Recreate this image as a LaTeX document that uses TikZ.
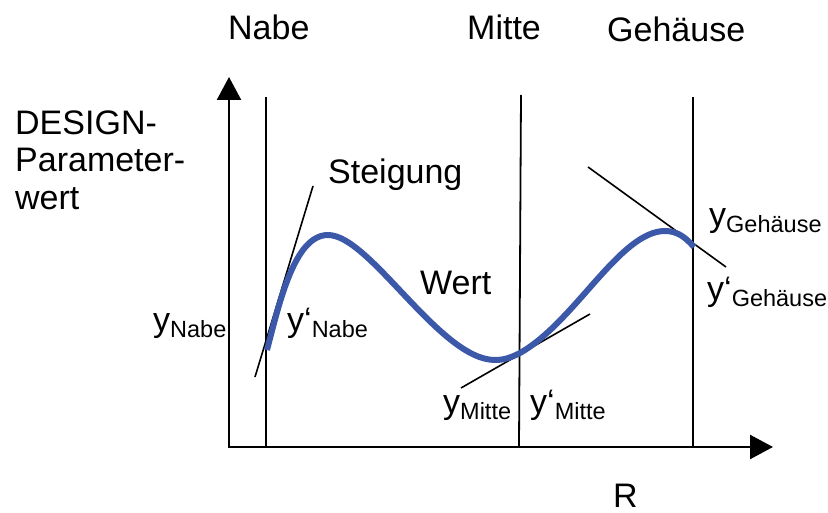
\documentclass[tikz,border=0pt]{standalone}
\usepackage{fontspec}
\setmainfont{Liberation Sans}
\usetikzlibrary{arrows.meta}
\definecolor{curveblue}{RGB}{60,88,168}
\tikzset{
  lbl/.style={anchor=base west,inner sep=0pt,font=\fontsize{34}{38}\selectfont},
  axisline/.style={line width=2.4pt,{Triangle[length=23pt,width=24pt]}-{Triangle[length=23pt,width=24pt]}},
  guide/.style={line width=1.8pt},
  tangent/.style={line width=1.6pt},
  valcurve/.style={line width=6pt,curveblue}
}
\newcommand{\sub}[1]{\raisebox{-6pt}{\fontsize{23.5}{26}\selectfont #1}}
\begin{document}
\begin{tikzpicture}[x=1pt,y=-1pt]
\useasboundingbox (0,0) rectangle (828,513);
% axes
\coordinate (ytip) at (229,77);
\coordinate (O) at (229,447);
\coordinate (xtip) at (773,447);
\draw[axisline] (ytip) -- (O) -- (xtip);
% guide lines
\coordinate (n1) at (266,97); \coordinate (n2) at (266,447);
\coordinate (m1) at (521,95); \coordinate (m2) at (519,447);
\coordinate (g1) at (693,97); \coordinate (g2) at (693,447);
\draw[guide] (n1) -- (n2);
\draw[guide] (m1) -- (m2);
\draw[guide] (g1) -- (g2);
% tangents
\coordinate (tn1) at (255,377); \coordinate (tn2) at (313,186);
\coordinate (tm1) at (461,388); \coordinate (tm2) at (590,314);
\coordinate (tg1) at (588,167); \coordinate (tg2) at (726,267);
\draw[tangent] (tn1) -- (tn2);
\draw[tangent] (tm1) -- (tm2);
\draw[tangent] (tg1) -- (tg2);
% curve
\coordinate (c0) at (267,350);
\coordinate (c1) at (328,235);
\coordinate (c2) at (495,360);
\coordinate (c3) at (520,353);
\coordinate (c4) at (665,231);
\coordinate (c5) at (694,247);
\draw[valcurve] (c0) .. controls (280,300) and (295,235) .. (c1)
  .. controls (370,235) and (440,360) .. (c2)
  .. controls (505,360) and (512,357) .. (c3)
  .. controls (575,322) and (620,231) .. (c4)
  .. controls (678,231) and (686,238) .. (c5);
% labels
\node[lbl] (tNabe) at (228,40) {Nabe};
\node[lbl] (tMitte) at (467,40) {Mitte};
\node[lbl] (tGeh) at (607,42) {Gehäuse};
\node[lbl] (tD1) at (15,135) {DESIGN-};
\node[lbl] (tD2) at (15,172) {Parameter-};
\node[lbl] (tD3) at (15,210) {wert};
\node[lbl] (tSteig) at (328,184) {Steigung};
\node[lbl] (tWert) at (420,295) {Wert};
\node[lbl] (tR) at (613,507) {R};
\node[lbl] (yN) at (153,331) {y\sub{Nabe}};
\node[lbl] (ypN) at (287,331) {y‘\sub{Nabe}};
\node[lbl] (yM) at (443,413) {y\sub{Mitte}};
\node[lbl] (ypM) at (530,413) {y‘\sub{Mitte}};
\node[lbl] (yG) at (709,227) {y\sub{Gehäuse}};
\node[lbl] (ypG) at (707,301) {y‘\sub{Gehäuse}};
\end{tikzpicture}
\end{document}
